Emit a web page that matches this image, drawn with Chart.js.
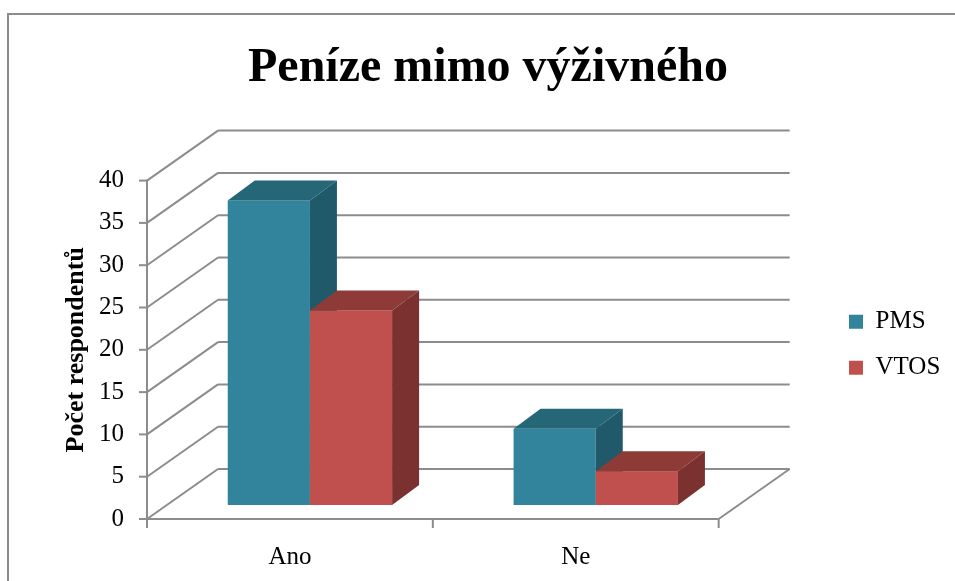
<!DOCTYPE html>
<html>
<head>
<meta charset="utf-8">
<script src="https://cdn.jsdelivr.net/npm/chart.js@4"></script>
<style>
html,body{margin:0;padding:0;background:#ffffff;}
#wrap{width:955px;height:581px;position:relative;overflow:hidden;}
canvas{display:block;}
</style>
</head>
<body>
<div id="wrap"><canvas id="c" width="955" height="581"></canvas></div>
<script>
// ---- data ----
const categories = ['Ano', 'Ne'];
const seriesNames = ['PMS', 'VTOS'];
const pmsValues = [36, 9];
const vtosValues = [23, 4];
const yTickValues = [0, 5, 10, 15, 20, 25, 30, 35, 40];
const chartTitle = 'Peníze mimo výživného';
const yAxisTitle = 'Počet respondentů';

// ---- style ----
const FONT = "'Liberation Serif', 'Times New Roman', serif";
const GRID = '#8c8c8c';
const DEPTH = { x: 71, y: -50 };      // full floor depth
const BAR_SHIFT = { x: 20, y: -14 };  // bar front face position in depth
const BAR_DEPTH = { x: 27, y: -20 };  // bar thickness in depth
const faces = [
  { front: '#31849B', top: '#256677', side: '#205969' },
  { front: '#C0504D', top: '#8E3B38', side: '#7B3130' }
];
const TITLE_CENTER_X = 488;
const LEGEND_LEFT = 828;

function line(ctx, x1, y1, x2, y2) {
  ctx.beginPath(); ctx.moveTo(x1, y1); ctx.lineTo(x2, y2); ctx.stroke();
}
function poly(ctx, pts, color) {
  ctx.beginPath();
  ctx.moveTo(pts[0][0], pts[0][1]);
  for (let i = 1; i < pts.length; i++) ctx.lineTo(pts[i][0], pts[i][1]);
  ctx.closePath();
  ctx.fillStyle = color; ctx.fill();
}

const frame = {
  id: 'frame',
  beforeDraw(chart) {
    const ctx = chart.ctx;
    ctx.save();
    ctx.strokeStyle = GRID; ctx.lineWidth = 2;
    line(ctx, 8, 14, 8, chart.height);
    line(ctx, 7, 14, chart.width, 14);
    ctx.restore();
  },
  afterLayout(chart) {
    const L = chart.legend;
    if (L) {
      const dx = LEGEND_LEFT - L.left, dy = -5;
      L.left += dx; L.right += dx; L.top += dy; L.bottom += dy;
    }
    const T = chart.titleBlock;
    if (T) {
      const tx = TITLE_CENTER_X - (T.left + T.right) / 2;
      T.left += tx; T.right += tx;
    }
  }
};

const threeD = {
  id: 'threeD',
  beforeDatasetsDraw(chart) {
    const { ctx, chartArea: a, scales: { x, y } } = chart;
    ctx.save();
    ctx.strokeStyle = GRID; ctx.lineWidth = 2; ctx.lineCap = 'butt';
    // walls
    y.ticks.forEach(t => {
      const py = y.getPixelForValue(t.value);
      line(ctx, a.left + DEPTH.x, py + DEPTH.y, a.right + DEPTH.x, py + DEPTH.y);
      line(ctx, a.left, py, a.left + DEPTH.x, py + DEPTH.y);
      line(ctx, a.left - 8, py, a.left, py);
    });
    line(ctx, a.left, a.top - 1, a.left, a.bottom + 1);
    line(ctx, a.left - 1, a.bottom, a.right, a.bottom);
    line(ctx, a.right, a.bottom, a.right + DEPTH.x, a.bottom + DEPTH.y);
    for (let i = 0; i <= categories.length; i++) {
      const px = x.getPixelForValue(i - 0.5);
      line(ctx, px, a.bottom, px, a.bottom + 9);
    }
    // bars
    const metas = chart.data.datasets.map((d, i) => chart.getDatasetMeta(i));
    for (let j = 0; j < categories.length; j++) {
      metas.forEach((m, i) => {
        const el = m.data[j];
        const f = faces[i];
        const p = el.getProps(['x', 'y', 'base', 'width'], true);
        const x0 = p.x - p.width / 2 + BAR_SHIFT.x, x1 = p.x + p.width / 2 + BAR_SHIFT.x;
        const y0 = p.y + BAR_SHIFT.y, y1 = p.base + BAR_SHIFT.y;
        ctx.fillStyle = f.front;
        ctx.fillRect(x0, y0, x1 - x0, y1 - y0);
        poly(ctx, [[x1, y0], [x1 + BAR_DEPTH.x, y0 + BAR_DEPTH.y], [x1 + BAR_DEPTH.x, y1 + BAR_DEPTH.y], [x1, y1]], f.side);
        poly(ctx, [[x0, y0], [x0 + BAR_DEPTH.x, y0 + BAR_DEPTH.y], [x1 + BAR_DEPTH.x, y0 + BAR_DEPTH.y], [x1, y0]], f.top);
      });
    }
    ctx.restore();
    return false;
  }
};

new Chart(document.getElementById('c'), {
  type: 'bar',
  data: {
    labels: categories,
    datasets: [
      { label: seriesNames[0], data: pmsValues, backgroundColor: faces[0].front, borderWidth: 0 },
      { label: seriesNames[1], data: vtosValues, backgroundColor: faces[1].front, borderWidth: 0 }
    ]
  },
  options: {
    responsive: false,
    animation: false,
    events: [],
    layout: { padding: { left: 0, right: 114, top: 0, bottom: 0 } },
    datasets: { bar: { categoryPercentage: 0.575, barPercentage: 1 } },
    plugins: {
      title: {
        display: true,
        text: chartTitle,
        color: '#000',
        font: { family: FONT, size: 48, weight: 'bold', lineHeight: 1.2 },
        padding: { top: 40, bottom: 83 }
      },
      legend: {
        display: true,
        position: 'right',
        fullSize: false,
        labels: {
          color: '#000',
          font: { family: FONT, size: 25 },
          boxWidth: 14, boxHeight: 14,
          padding: 21
        }
      },
      tooltip: { enabled: false }
    },
    scales: {
      x: {
        grid: { display: false, drawTicks: false },
        border: { display: false },
        ticks: { color: '#000', font: { family: FONT, size: 25 }, padding: 23 },
        afterFit(s) { s.height = 62; }
      },
      y: {
        min: 0, max: 40,
        afterBuildTicks(s) { s.ticks = yTickValues.map(v => ({ value: v })); },
        grid: { display: false, drawTicks: false },
        border: { display: false },
        ticks: { color: '#000', font: { family: FONT, size: 25 }, padding: 23 },
        title: {
          display: true, text: yAxisTitle, color: '#000',
          font: { family: FONT, size: 26, weight: 'bold', lineHeight: 1.2 },
          padding: { top: 61, bottom: 0 }
        },
        afterFit(s) { s.width = 147; }
      }
    }
  },
  plugins: [frame, threeD]
});
</script>
</body>
</html>
